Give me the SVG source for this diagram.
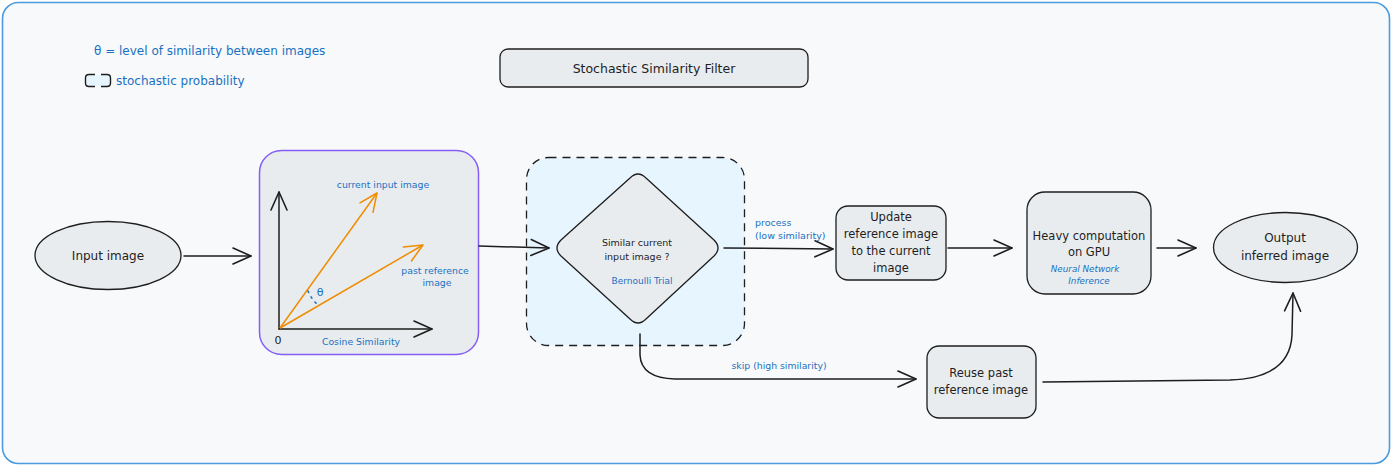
<svg xmlns="http://www.w3.org/2000/svg" width="1392" height="467" viewBox="0 0 1392 467">
<style>
text{font-family:"DejaVu Sans","Liberation Sans",sans-serif;fill:#1e1e1e;text-anchor:middle;dominant-baseline:central}
.b{fill:#1971c2}
.l{text-anchor:start}
.node{fill:#e9ecef;stroke:#1e1e1e;stroke-width:1.3}
.edge{fill:none;stroke:#1e1e1e;stroke-width:1.5;stroke-linecap:round}
</style>
<defs>
<marker id="ah" markerUnits="userSpaceOnUse" markerWidth="26" markerHeight="24" refX="20" refY="12" orient="auto" overflow="visible">
<path d="M2,4 L20,12 L2,20" fill="none" stroke="#1e1e1e" stroke-width="1.6" stroke-linecap="round" stroke-linejoin="round"/>
</marker>
<marker id="aho" markerUnits="userSpaceOnUse" markerWidth="26" markerHeight="24" refX="20" refY="12" orient="auto" overflow="visible">
<path d="M2,4 L20,12 L2,20" fill="none" stroke="#f08c00" stroke-width="1.5" stroke-linecap="round" stroke-linejoin="round"/>
</marker>
</defs>
<rect x="2.5" y="2.5" width="1387" height="461" rx="16" fill="#f8f9fa" stroke="#4a9be0" stroke-width="1.6"/>

<g id="legend">
<text class="b l" x="94" y="51" font-size="12">θ = level of similarity between images</text>
<rect x="86" y="75" width="24" height="11" rx="3" fill="#e7f5ff"/>
<path d="M95,74.5 L89,74.5 Q85.5,74.5 85.5,78 L85.5,83 Q85.5,86.5 89,86.5 L95,86.5 M101,74.5 L107,74.5 Q110.5,74.5 110.5,78 L110.5,83 Q110.5,86.5 107,86.5 L101,86.5" fill="none" stroke="#1e1e1e" stroke-width="1.4"/>
<text class="b l" x="116" y="81" font-size="12">stochastic probability</text>
</g>

<g id="title">
<rect class="node" x="500" y="49" width="308" height="38" rx="8"/>
<text x="654" y="68" font-size="12.5">Stochastic Similarity Filter</text>
</g>

<g id="input">
<ellipse class="node" cx="108" cy="255.5" rx="73" ry="34"/>
<text x="108" y="256" font-size="12">Input image</text>
</g>

<g id="cosine">
<rect x="259.5" y="150.5" width="219" height="204" rx="22" fill="#e9ecef" stroke="#845ef7" stroke-width="1.5"/>
<line class="edge" x1="279" y1="329" x2="279" y2="192" marker-end="url(#ah)"/>
<line class="edge" x1="279" y1="329" x2="432" y2="329" marker-end="url(#ah)"/>
<line x1="280" y1="328" x2="377" y2="193" stroke="#f08c00" stroke-width="1.5" marker-end="url(#aho)"/>
<line x1="280" y1="328" x2="423" y2="245" stroke="#f08c00" stroke-width="1.5" marker-end="url(#aho)"/>
<path d="M308,291 Q312,300 318,305" fill="none" stroke="#1971c2" stroke-width="1.6" stroke-dasharray="1.5 5" stroke-linecap="round"/>
<text class="b" x="320" y="292" font-size="11">θ</text>
<text class="b" x="383" y="184" font-size="9.3">current input image</text>
<text class="b" x="435" y="270" font-size="9.3">past reference</text>
<text class="b" x="437" y="282" font-size="9.3">image</text>
<text class="b" x="361" y="341" font-size="9.3">Cosine Similarity</text>
<text x="278" y="340" font-size="11">0</text>
</g>

<g id="decision">
<rect x="526.5" y="157.5" width="218" height="188" rx="22" fill="#e7f5ff" stroke="#1e1e1e" stroke-width="1.3" stroke-dasharray="8 6"/>
<path class="node" d="M630,178 Q638,170 646,178 L714,240 Q722,248 714,256 L646,319 Q638,327 630,319 L561,256 Q553,248 561,240 Z"/>
<text x="637" y="242" font-size="9.5">Similar current</text>
<text x="637" y="256" font-size="9.5">input image ?</text>
<text class="b" x="642" y="281" font-size="9">Bernoulli Trial</text>
</g>

<g id="update">
<rect class="node" x="836" y="206" width="110" height="74" rx="12"/>
<text x="891" y="217" font-size="11.5">Update</text>
<text x="891" y="234" font-size="11.5">reference image</text>
<text x="891" y="251" font-size="11.5">to the current</text>
<text x="891" y="268" font-size="11.5">image</text>
</g>

<g id="gpu">
<rect class="node" x="1027" y="192" width="124" height="102" rx="18"/>
<text x="1089" y="236" font-size="11.5">Heavy computation</text>
<text x="1089" y="252" font-size="11.5">on GPU</text>
<text class="b" x="1085" y="269" font-size="8.8" font-style="italic">Neural Network</text>
<text class="b" x="1089" y="281" font-size="8.8" font-style="italic">Inference</text>
</g>

<g id="output">
<ellipse class="node" cx="1285.5" cy="247.5" rx="72" ry="35"/>
<text x="1285" y="238" font-size="12">Output</text>
<text x="1285" y="256" font-size="12">inferred image</text>
</g>

<g id="reuse">
<rect class="node" x="927" y="346" width="109" height="72" rx="12"/>
<text x="981" y="373" font-size="11.5">Reuse past</text>
<text x="981" y="390" font-size="11.5">reference image</text>
</g>

<g id="connectors">
<line class="edge" x1="184" y1="256" x2="251" y2="256" marker-end="url(#ah)"/>
<line class="edge" x1="479" y1="246" x2="549" y2="248" marker-end="url(#ah)"/>
<line class="edge" x1="724" y1="248" x2="833" y2="249" marker-end="url(#ah)"/>
<text class="b l" x="755" y="222" font-size="9.5">process</text>
<text class="b l" x="755" y="235" font-size="9.5">(low similarity)</text>
<line class="edge" x1="948" y1="248" x2="1012" y2="248" marker-end="url(#ah)"/>
<line class="edge" x1="1157" y1="248" x2="1196" y2="248" marker-end="url(#ah)"/>
<path class="edge" d="M640,334 L640,355 Q641,378 675,379 L916,379" marker-end="url(#ah)"/>
<text class="b" x="779" y="365" font-size="9.3">skip (high similarity)</text>
<path class="edge" d="M1043,382 L1230,380 Q1290,378 1292,335 L1293,293" marker-end="url(#ah)"/>
</g>
</svg>
